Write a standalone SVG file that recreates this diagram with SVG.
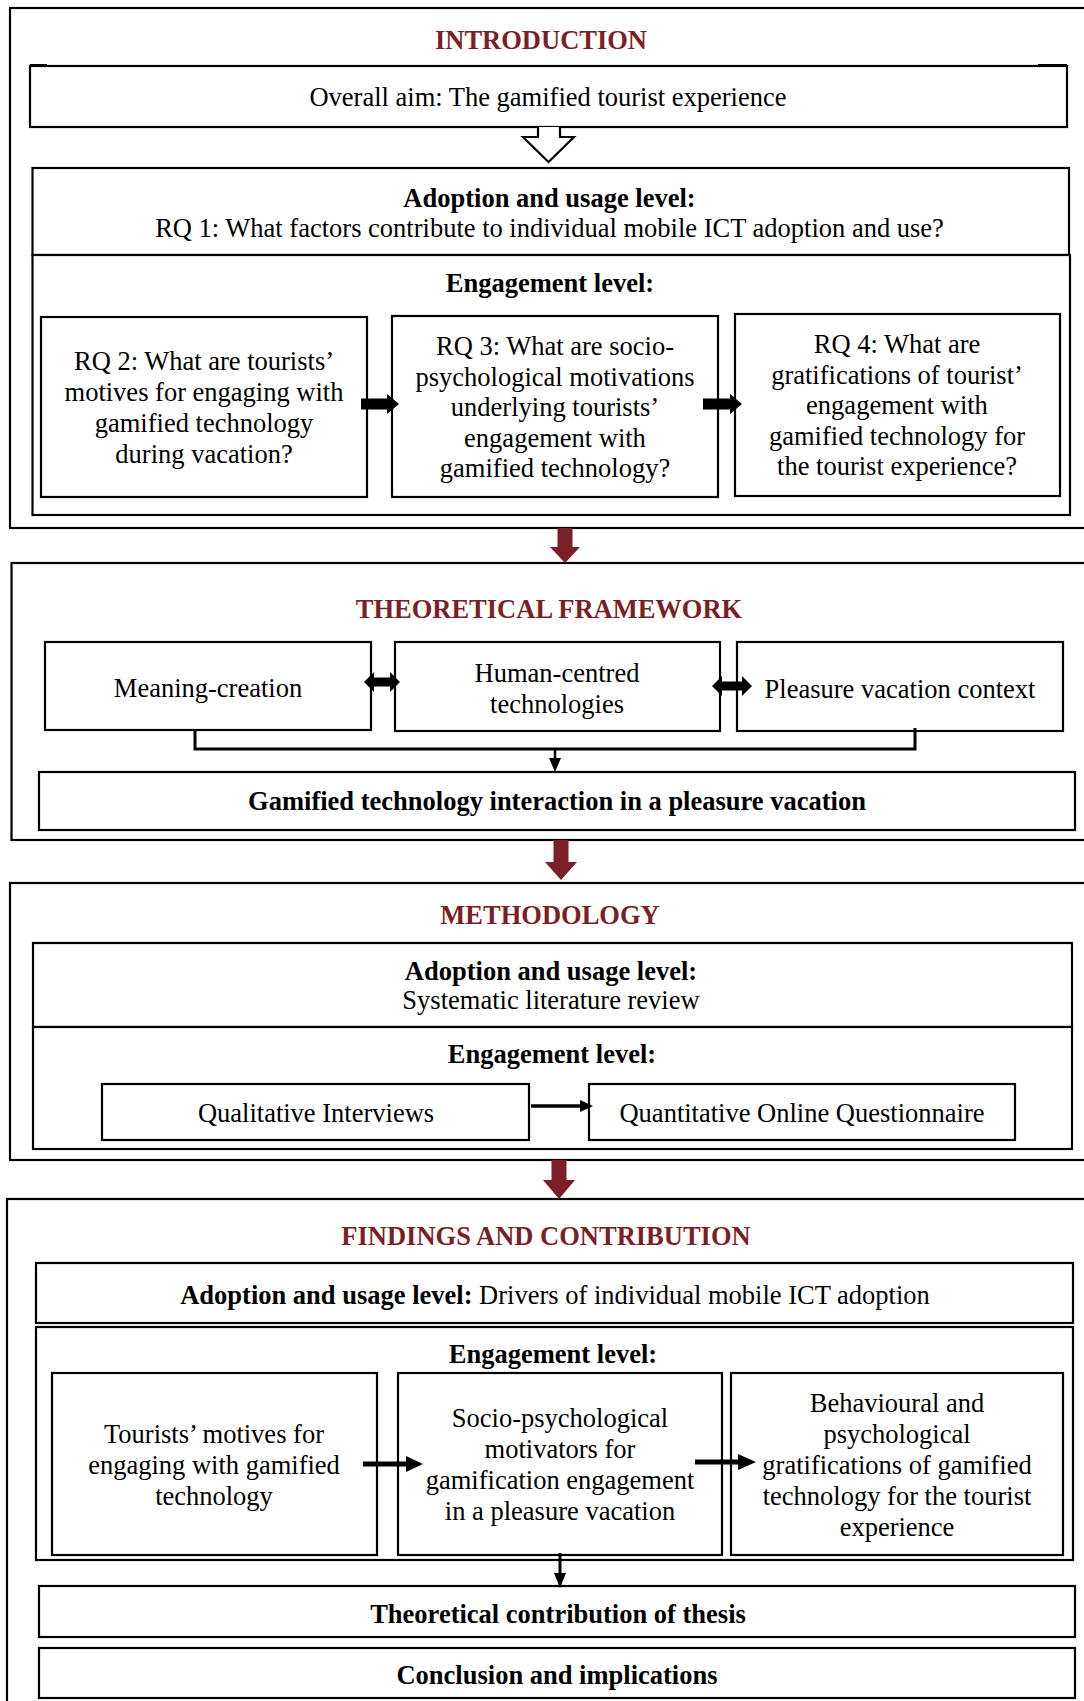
<svg xmlns="http://www.w3.org/2000/svg" width="1084" height="1701" viewBox="0 0 1084 1701">
  <style>
    .frame{fill:#fff;stroke:#000;stroke-width:2.2}
    .box{fill:#fff;stroke:#000;stroke-width:2.2}
    .t{font-family:"Liberation Serif","Times New Roman",serif;font-size:26.5px;fill:#000;text-anchor:middle}
    .b{font-weight:bold}
    .h{font-family:"Liberation Serif","Times New Roman",serif;font-size:26.5px;font-weight:bold;fill:#7b1f27;text-anchor:middle}
    .blk{fill:#000}
    .mar{fill:#7b2028}
    .wire{fill:none;stroke:#000;stroke-width:3}
    .hollow{fill:#fff;stroke:#000;stroke-width:2.2;stroke-linejoin:miter}
  </style>

  <!-- section frames (open to the right edge of the page) -->
  <g id="sec-introduction">
    <rect class="frame" x="10" y="8" width="1100" height="520"/>
    <text class="h" x="541" y="49">INTRODUCTION</text>
  </g>
  <g id="sec-framework">
    <rect class="frame" x="11.5" y="563" width="1100" height="277"/>
    <text class="h" x="549" y="618">THEORETICAL FRAMEWORK</text>
  </g>
  <g id="sec-methodology">
    <rect class="frame" x="10" y="883" width="1100" height="277"/>
    <text class="h" x="550" y="924">METHODOLOGY</text>
  </g>
  <g id="sec-findings">
    <rect class="frame" x="7" y="1199" width="1100" height="520"/>
    <text class="h" x="546" y="1245">FINDINGS AND CONTRIBUTION</text>
  </g>

  <!-- INTRODUCTION nodes -->
  <g id="overall-aim">
    <rect class="box" x="30" y="66" width="1037" height="61"/>
    <line x1="30" y1="65" x2="47" y2="65" stroke="#000" stroke-width="2"/>
    <line x1="1038" y1="65" x2="1067" y2="65" stroke="#000" stroke-width="2"/>
    <text class="t" x="548" y="106">Overall aim: The gamified tourist experience</text>
  </g>
  <g id="intro-adoption">
    <rect class="box" x="32.5" y="168" width="1036.5" height="87"/>
    <text class="t b" x="549.5" y="207">Adoption and usage level:</text>
    <text class="t" x="549.5" y="237">RQ 1: What factors contribute to individual mobile ICT adoption and use?</text>
  </g>
  <g id="intro-engagement">
    <rect class="box" x="32.5" y="255" width="1037.5" height="260"/>
    <text class="t b" x="550" y="292">Engagement level:</text>
  </g>
  <g id="rq2">
    <rect class="box" x="41" y="317" width="326" height="180"/>
    <text class="t" x="204"><tspan x="204" y="370">RQ 2: What are tourists’</tspan><tspan x="204" y="401">motives for engaging with</tspan><tspan x="204" y="432">gamified technology</tspan><tspan x="204" y="463">during vacation?</tspan></text>
  </g>
  <g id="rq3">
    <rect class="box" x="392" y="316" width="326" height="181"/>
    <text class="t" x="555"><tspan x="555" y="355">RQ 3: What are socio-</tspan><tspan x="555" y="386">psychological motivations</tspan><tspan x="555" y="416">underlying tourists’</tspan><tspan x="555" y="447">engagement with</tspan><tspan x="555" y="477">gamified technology?</tspan></text>
  </g>
  <g id="rq4">
    <rect class="box" x="735" y="314" width="325" height="182"/>
    <text class="t" x="897"><tspan x="897" y="353">RQ 4: What are</tspan><tspan x="897" y="384">gratifications of tourist’</tspan><tspan x="897" y="414">engagement with</tspan><tspan x="897" y="445">gamified technology for</tspan><tspan x="897" y="475">the tourist experience?</tspan></text>
  </g>

  <!-- THEORETICAL FRAMEWORK nodes -->
  <g id="meaning-creation">
    <rect class="box" x="45" y="642" width="326" height="88"/>
    <text class="t" x="208" y="697">Meaning-creation</text>
  </g>
  <g id="human-centred">
    <rect class="box" x="395" y="642" width="325" height="89"/>
    <text class="t" x="557"><tspan x="557" y="682">Human-centred</tspan><tspan x="557" y="713">technologies</tspan></text>
  </g>
  <g id="pleasure-context">
    <rect class="box" x="737" y="642" width="326" height="89"/>
    <text class="t" x="900" y="698">Pleasure vacation context</text>
  </g>
  <g id="gamified-interaction">
    <rect class="box" x="39" y="772" width="1036" height="58"/>
    <text class="t b" x="557" y="810">Gamified technology interaction in a pleasure vacation</text>
  </g>

  <!-- METHODOLOGY nodes -->
  <g id="method-adoption">
    <rect class="box" x="33" y="943" width="1039" height="84"/>
    <text class="t b" x="551" y="980">Adoption and usage level:</text>
    <text class="t" x="551" y="1009">Systematic literature review</text>
  </g>
  <g id="method-engagement">
    <rect class="box" x="33" y="1027" width="1039" height="122"/>
    <text class="t b" x="552" y="1063">Engagement level:</text>
  </g>
  <g id="qualitative">
    <rect class="box" x="102" y="1084" width="427" height="56"/>
    <text class="t" x="316" y="1122">Qualitative Interviews</text>
  </g>
  <g id="quantitative">
    <rect class="box" x="589" y="1084" width="426" height="56"/>
    <text class="t" x="802" y="1122">Quantitative Online Questionnaire</text>
  </g>

  <!-- FINDINGS AND CONTRIBUTION nodes -->
  <g id="findings-adoption">
    <rect class="box" x="36" y="1263" width="1037" height="60"/>
    <text class="t" x="555" y="1304"><tspan font-weight="bold">Adoption and usage level:</tspan> Drivers of individual mobile ICT adoption</text>
  </g>
  <g id="findings-engagement">
    <rect class="box" x="36" y="1327" width="1037" height="233"/>
    <text class="t b" x="553" y="1363">Engagement level:</text>
  </g>
  <g id="motives">
    <rect class="box" x="52" y="1373" width="325" height="182"/>
    <text class="t" x="214"><tspan x="214" y="1443">Tourists’ motives for</tspan><tspan x="214" y="1474">engaging with gamified</tspan><tspan x="214" y="1505">technology</tspan></text>
  </g>
  <g id="motivators">
    <rect class="box" x="398" y="1373" width="324" height="182"/>
    <text class="t" x="560"><tspan x="560" y="1427">Socio-psychological</tspan><tspan x="560" y="1458">motivators for</tspan><tspan x="560" y="1489">gamification engagement</tspan><tspan x="560" y="1520">in a pleasure vacation</tspan></text>
  </g>
  <g id="gratifications">
    <rect class="box" x="731" y="1373" width="332" height="182"/>
    <text class="t" x="897"><tspan x="897" y="1412">Behavioural and</tspan><tspan x="897" y="1443">psychological</tspan><tspan x="897" y="1474">gratifications of gamified</tspan><tspan x="897" y="1505">technology for the tourist</tspan><tspan x="897" y="1536">experience</tspan></text>
  </g>
  <g id="theoretical-contribution">
    <rect class="box" x="39" y="1586" width="1036" height="51"/>
    <text class="t b" x="558" y="1623">Theoretical contribution of thesis</text>
  </g>
  <g id="conclusion">
    <rect class="box" x="39" y="1648" width="1036" height="50"/>
    <text class="t b" x="557" y="1684">Conclusion and implications</text>
  </g>

  <!-- connectors -->
  <g id="connectors">
    <!-- hollow block arrow from the overall aim -->
    <path class="hollow" d="M538,127 V137 H523 L548.5,162 L574,137 H560 V127"/>
    <!-- RQ chain -->
    <path class="blk" d="M361,398.5 H387 V394 L399,404 L387,414 V409.5 H361 Z"/>
    <path class="blk" d="M703,398.5 H730 V394 L742,404 L730,414 V409.5 H703 Z"/>
    <!-- framework links -->
    <path class="blk" d="M364,682 L374,672 V677.5 H390 V672 L400,682 L390,692 V686.5 H374 V692 Z"/>
    <path class="blk" d="M712,686 L722,676 V681.5 H742 V676 L752,686 L742,696 V690.5 H722 V696 Z"/>
    <path class="wire" d="M195,730 V749 H915 V728"/>
    <line x1="555" y1="749" x2="555" y2="760" stroke="#000" stroke-width="2.5"/>
    <path class="blk" d="M549,758 H561 L555,772 Z"/>
    <!-- methodology -->
    <line x1="531" y1="1106" x2="582" y2="1106" stroke="#000" stroke-width="3.5"/>
    <path class="blk" d="M580,1100 L593,1106 L580,1112 Z"/>
    <!-- findings chain -->
    <line x1="363" y1="1464" x2="408" y2="1464" stroke="#000" stroke-width="5"/>
    <path class="blk" d="M406,1456 L423,1464 L406,1472 Z"/>
    <line x1="695" y1="1462" x2="740" y2="1462" stroke="#000" stroke-width="5"/>
    <path class="blk" d="M738,1454 L756,1462 L738,1470 Z"/>
    <line x1="560" y1="1553" x2="560" y2="1575" stroke="#000" stroke-width="3"/>
    <path class="blk" d="M554,1573 H566 L560,1588 Z"/>
    <!-- section transitions -->
    <path class="mar" d="M557.5,528 H572.5 V547 H580 L565,563 L550,547 H557.5 Z"/>
    <path class="mar" d="M553.5,840 H568.5 V862 H577 L561,880 L545,862 H553.5 Z"/>
    <path class="mar" d="M551.5,1160 H566.5 V1180 H575 L559,1199 L543,1180 H551.5 Z"/>
  </g>
</svg>
